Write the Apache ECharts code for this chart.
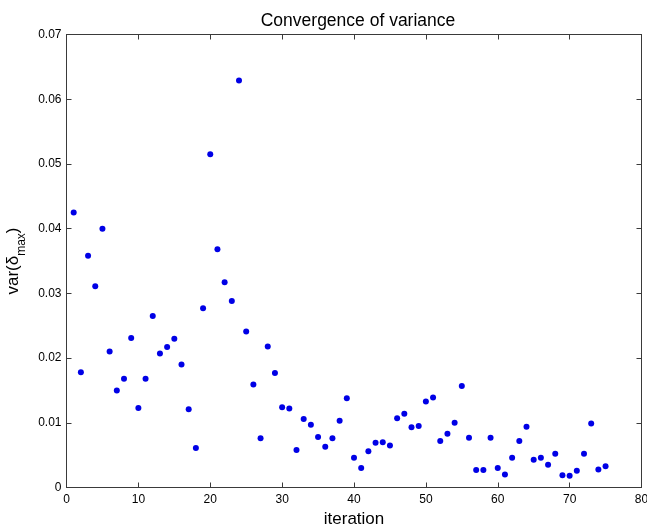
<!DOCTYPE html>
<html><head><meta charset="utf-8">
<script src="https://cdn.jsdelivr.net/npm/echarts@6/dist/echarts.min.js"></script>
<style>html,body{margin:0;padding:0;background:#fff}#c{width:647px;height:529px}</style>
</head><body><div id="c"></div>
<script>
const iterations = [1,2,3,4,5,6,7,8,9,10,11,12,13,14,15,16,17,18,19,20,21,22,23,24,25,26,27,28,29,30,31,32,33,34,35,36,37,38,39,40,41,42,43,44,45,46,47,48,49,50,51,52,53,54,55,56,57,58,59,60,61,62,63,64,65,66,67,68,69,70,71,72,73,74,75];
const variance = [0.0425,0.0178,0.0358,0.0311,0.0400,0.0210,0.0150,0.0168,0.0231,0.0123,0.0168,0.0265,0.0207,0.0217,0.0230,0.0190,0.0121,0.0061,0.0277,0.0515,0.0368,0.0317,0.0288,0.0629,0.0241,0.0159,0.0076,0.0218,0.0177,0.0124,0.0122,0.0058,0.0106,0.0097,0.0078,0.0063,0.0076,0.0103,0.0138,0.0046,0.0030,0.0056,0.0069,0.0070,0.0065,0.0107,0.0114,0.0093,0.0095,0.0133,0.0139,0.0072,0.0083,0.0100,0.0157,0.0077,0.0027,0.0027,0.0077,0.0030,0.0020,0.0046,0.0072,0.0094,0.0043,0.0046,0.0035,0.0052,0.0019,0.0018,0.0026,0.0052,0.0099,0.0028,0.0033];
const xTicks = [0,10,20,30,40,50,60,70,80];
const yTicks = ['0','0.01','0.02','0.03','0.04','0.05','0.06','0.07'];

const chart = echarts.init(document.getElementById('c'), null, {renderer:'canvas'});
const font = 'Liberation Sans, Arial, sans-serif';
function axisLine(){ return {show:true, onZero:false, lineStyle:{color:'#3a3a3a', width:1}}; }
function tick(){ return {show:true, inside:true, length:5, lineStyle:{color:'#3a3a3a'}}; }
chart.setOption({
  animation:false,
  backgroundColor:'#fff',
  title:{text:'Convergence of variance', left:353, top:7, textAlign:'center',
    textStyle:{fontFamily:font, fontSize:17.5, fontWeight:'normal', color:'#000'}},
  grid:{left:66.5, right:5.5, top:34.5, bottom:41.5, containLabel:false, outerBoundsMode:'none'},
  xAxis:[{type:'value', min:0, max:80, interval:10, position:'bottom',
    axisLine:axisLine(), axisTick:tick(), splitLine:{show:false},
    axisLabel:{fontFamily:font, fontSize:12, color:'#000', margin:6,
      formatter:(v)=>String(xTicks[Math.round(v/10)])},
    name:'iteration', nameLocation:'middle', nameGap:21,
    nameTextStyle:{fontFamily:font, fontSize:17, color:'#000'}},
   {type:'value', min:0, max:80, interval:10, position:'top',
    axisLine:axisLine(), axisTick:tick(), axisLabel:{show:false}, splitLine:{show:false}}],
  yAxis:[{type:'value', min:0, max:0.07, interval:0.01, position:'left',
    axisLine:axisLine(), axisTick:tick(), splitLine:{show:false},
    axisLabel:{fontFamily:font, fontSize:12, color:'#000', margin:5,
      formatter:(v)=>yTicks[Math.round(v*100)]},
    name:'var(δ{sub|max})', nameLocation:'middle', nameGap:34, nameRotate:90,
    nameTextStyle:{fontFamily:font, fontSize:17, color:'#000', lineHeight:28,
      rich:{sub:{fontFamily:font, fontSize:12, color:'#000', lineHeight:12, verticalAlign:'bottom'}}}},
   {type:'value', min:0, max:0.07, interval:0.01, position:'right',
    axisLine:axisLine(), axisTick:tick(), axisLabel:{show:false}, splitLine:{show:false}}],
  series:[{type:'scatter', xAxisIndex:0, yAxisIndex:0,
    data: iterations.map((x,i)=>[x, variance[i]]),
    symbol:'circle', symbolSize:6, itemStyle:{color:'#0000e6', opacity:1}}]
});
</script></body></html>
